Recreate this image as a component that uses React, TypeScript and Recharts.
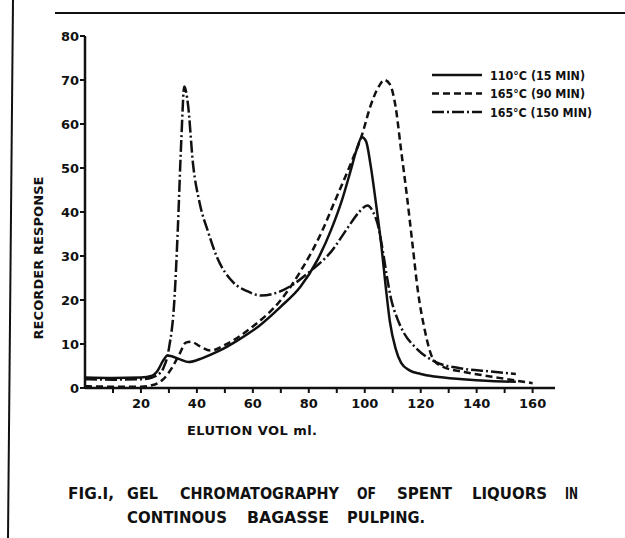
import { CartesianGrid, Line, LineChart, XAxis, YAxis } from "recharts";

// 110°C (15 min) – solid
const solidVolume = [0, 10, 20, 24, 26, 28, 29.5, 31, 34, 37, 42, 47.5, 55, 62, 70, 77, 83, 88, 92, 95, 97, 99, 100.5, 102, 104, 106, 107.5, 109, 111, 113, 116, 120, 125, 135, 145, 154];
const solidResponse = [2.4, 2.3, 2.4, 2.8, 4, 6.3, 7.4, 7.2, 6.5, 5.9, 6.8, 8.3, 11, 14, 18.5, 23, 29, 36, 43, 49.5, 54, 57, 56, 51, 42, 32, 23, 15, 9, 5.7, 4, 3.2, 2.6, 2, 1.6, 1.4];

// 165°C (90 min) – dashed
const dashedVolume = [0, 10, 20, 25, 28, 31, 34, 36, 38, 41, 45, 50, 60, 70, 77, 85, 89, 95, 99, 102, 105, 107, 109, 111, 113, 115, 117, 119, 121.5, 124.5, 128, 136, 148, 160];
const dashedResponse = [0.4, 0.3, 0.3, 0.8, 2, 4.5, 8, 10.3, 10.5, 9.5, 8.5, 9.8, 14, 20, 26.5, 36, 42, 51, 57.5, 64, 68.5, 70, 69, 64, 54, 44, 33, 22, 13, 6.5, 4.8, 3.6, 2.3, 1.1];

// 165°C (150 min) – dash-dot
const dashDotVolume = [0, 10, 20, 24, 26, 28, 30, 32, 33.2, 34.4, 35.5, 36.8, 38.6, 41, 44, 47, 53, 58, 63, 71, 81, 88, 94, 98, 101, 103, 104.5, 106.5, 108, 109.5, 111.5, 114, 118, 125, 134, 144, 154];
const dashDotResponse = [2, 1.9, 2, 2.4, 3, 4.5, 9, 20.5, 36.5, 56, 68.5, 64.5, 51, 42, 35.5, 30, 24, 22, 21, 22.3, 26.8, 31, 36.5, 40, 41.5, 40, 37.5, 31, 25, 20, 16, 12.5, 9.3, 6, 4.5, 3.8, 3.2];

const xTicks = [10, 20, 30, 40, 50, 60, 70, 80, 90, 100, 110, 120, 130, 140, 150, 160];
const yTicks = [0, 10, 20, 30, 40, 50, 60, 70, 80];

const legendLabels = ["110°C (15 MIN)", "165°C (90 MIN)", "165°C (150 MIN)"];
const dashes = ["0", "7 4", "12 3 2 3"];

const captionLine1 = [
  { w: "FIG.I,", x: 68, len: 46 },
  { w: "GEL", x: 127, len: 31 },
  { w: "CHROMATOGRAPHY", x: 180, len: 159 },
  { w: "OF", x: 357, len: 19 },
  { w: "SPENT", x: 397, len: 55 },
  { w: "LIQUORS", x: 472, len: 75 },
  { w: "IN", x: 565, len: 13 },
];
const captionLine2 = [
  { w: "CONTINOUS", x: 127, len: 100 },
  { w: "BAGASSE", x: 247, len: 82 },
  { w: "PULPING.", x: 347, len: 78 },
];

const zip = (xs: number[], ys: number[]) => xs.map((v, i) => ({ vol: v, resp: ys[i] }));

const FONT = "'DejaVu Sans', sans-serif";

export default function App() {
  const series = [
    zip(solidVolume, solidResponse),
    zip(dashedVolume, dashedResponse),
    zip(dashDotVolume, dashDotResponse),
  ];

  return (
    <div style={{ position: "absolute", left: 0, top: 0, width: 625, height: 538, background: "#fff" }}>
      <LineChart width={625} height={538} margin={{ top: 36, right: 70, bottom: 120, left: 25 }}>
        <CartesianGrid stroke="none" />
        <XAxis
          type="number"
          dataKey="vol"
          domain={[0, 168]}
          ticks={xTicks}
          tickFormatter={(v: number) => (v % 20 === 0 ? String(v) : "")}
          allowDataOverflow
          height={30}
          tickSize={5}
          tickMargin={6}
          stroke="#111"
          axisLine={{ stroke: "#111", strokeWidth: 2.5 }}
          tickLine={{ stroke: "#111", strokeWidth: 2 }}
          tick={{ fontSize: 13, fontWeight: 700, fill: "#111", fontFamily: FONT }}
        />
        <YAxis
          type="number"
          domain={[0, 80]}
          ticks={yTicks}
          width={60}
          tickSize={5}
          tickMargin={1}
          axisLine={{ stroke: "#111", strokeWidth: 2.5 }}
          tickLine={{ stroke: "#111", strokeWidth: 2 }}
          tick={{ fontSize: 13, fontWeight: 700, fill: "#111", fontFamily: FONT }}
        />
        {series.map((d, i) => (
          <Line
            key={i}
            data={d}
            dataKey="resp"
            type="monotone"
            stroke="#111"
            strokeWidth={2.5}
            strokeDasharray={dashes[i]}
            dot={false}
            isAnimationActive={false}
          />
        ))}
      </LineChart>

      <svg
        width={625}
        height={538}
        style={{ position: "absolute", left: 0, top: 0, pointerEvents: "none" }}
        fontFamily={FONT}
        fontWeight={700}
        fill="#111"
      >
        {/* scan frame */}
        <line x1={55} y1={13} x2={625} y2={13} stroke="#111" strokeWidth={2} />
        <line x1={13} y1={0} x2={8} y2={538} stroke="#111" strokeWidth={2} />

        {/* legend */}
        {legendLabels.map((t, i) => (
          <g key={t}>
            <line
              x1={432}
              x2={482}
              y1={75 + i * 18.5}
              y2={75 + i * 18.5}
              stroke="#111"
              strokeWidth={2.5}
              strokeDasharray={dashes[i]}
            />
            <text
              x={490}
              y={75 + i * 18.5 + 4.5}
              fontSize={12}
              textLength={i === 2 ? 102 : 95}
              lengthAdjust="spacingAndGlyphs"
            >
              {t}
            </text>
          </g>
        ))}

        {/* axis titles */}
        <text
          transform="translate(43 258) rotate(-90)"
          textAnchor="middle"
          fontSize={13}
          textLength={163}
          lengthAdjust="spacing"
        >
          RECORDER RESPONSE
        </text>
        <text x={187} y={435} fontSize={13} textLength={130} lengthAdjust="spacing">
          ELUTION VOL ml.
        </text>

        {/* caption */}
        {captionLine1.map((c) => (
          <text key={c.w} x={c.x} y={499} fontSize={15} textLength={c.len} lengthAdjust="spacingAndGlyphs">
            {c.w}
          </text>
        ))}
        {captionLine2.map((c) => (
          <text key={c.w} x={c.x} y={523} fontSize={15} textLength={c.len} lengthAdjust="spacingAndGlyphs">
            {c.w}
          </text>
        ))}
      </svg>
    </div>
  );
}
